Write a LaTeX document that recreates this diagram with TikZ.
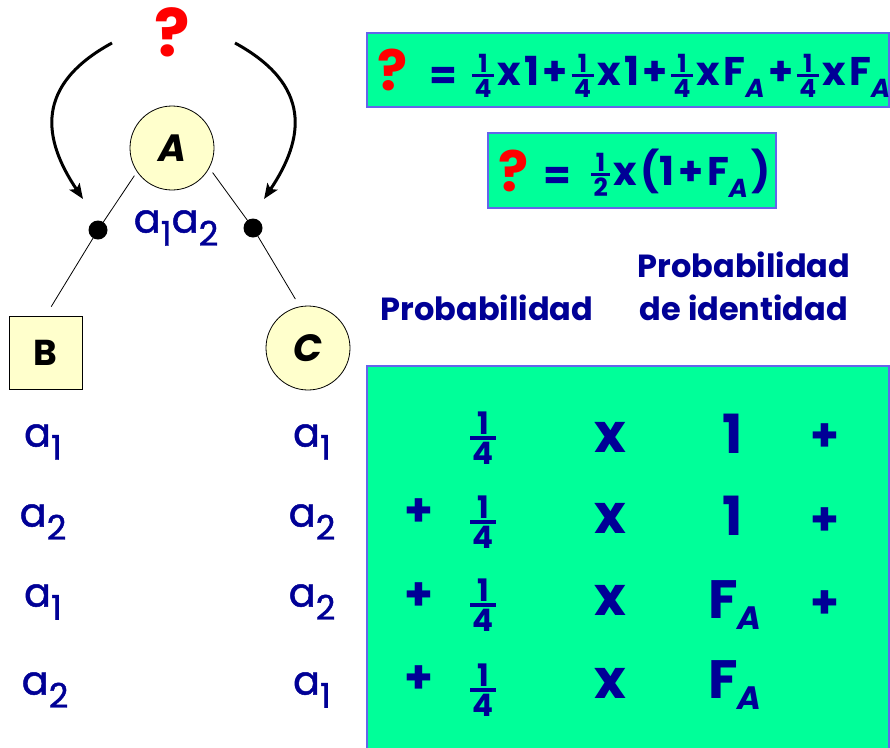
\documentclass[tikz,border=0pt]{standalone}
\usepackage{fontspec}
\setmainfont{Poppins}
\newfontfamily\heavy{Poppins}[FakeBold=1.2]
\usepackage{graphicx}
\usetikzlibrary{arrows.meta}
\definecolor{navy}{RGB}{0,0,150}
\definecolor{mint}{RGB}{0,255,153}
\definecolor{bord}{RGB}{100,100,235}
\definecolor{pale}{RGB}{255,255,204}
\newcommand\fs[1]{\fontsize{#1}{#1}\selectfont}
% size, raise, rule, num, den
\newcommand\frc[5]{\raisebox{#2}{\fs{#1}$\vcenter{\offinterlineskip\halign{\hfil\kern2.5pt##\kern2.5pt\hfil\cr #4\cr\noalign{\kern2pt\hrule height #3\kern2pt}#5\cr}}$}}
\newcommand\sA[2]{\raisebox{#1}{\scalebox{#2}{\itshape A}}}
\newcommand\ai[1]{a\raisebox{-0.33em}{\scalebox{0.85}{#1}}}
\newcommand\g{\kern3.5pt}
\newcommand\q{\frc{25pt}{3pt}{3pt}{1}{4}}
\begin{document}
\begin{tikzpicture}[x=1pt,y=-1pt,
  every node/.style={inner sep=0pt,outer sep=0pt},
  greenbox/.style={draw=bord,line width=1.5pt,fill=mint,anchor=north west},
  circ/.style={circle,draw=black,line width=0.8pt,fill=pale,minimum size=84pt,font=\fs{38pt}\bfseries\itshape},
  sq/.style={rectangle,draw=black,line width=0.8pt,fill=pale,minimum size=73pt,font=\fs{36pt}\bfseries},
  dot/.style={circle,fill=black,minimum size=19pt},
  arr/.style={line width=3pt,-{Stealth[length=15pt,width=12pt,inset=3pt]}},
  link/.style={line width=0.8pt},
  qm/.style={text=red,font=\fs{56pt}\bfseries},
  allele/.style={text=navy,font=\fs{40pt}\heavy},
  eq/.style={text=navy,font=\fs{40pt}\bfseries},
  head/.style={text=navy,font=\fs{32pt}\bfseries,anchor=base},
  big/.style={text=navy,font=\fs{54pt}\bfseries},
  plus/.style={text=navy,font=\fs{46pt}\bfseries}]
\useasboundingbox (0,0) rectangle (890,747);
\fill[white] (0,0) rectangle (890,747);

% boxes
\node[greenbox,minimum width=522pt,minimum height=74pt] (top) at (367,33) {};
\node[greenbox,minimum width=288pt,minimum height=75pt] (mid) at (488,133) {};
\node[greenbox,minimum width=522pt,minimum height=390pt] (tab) at (367,366) {};

% tree
\node[qm,font=\fs{66pt}\bfseries] (q) at (172,32) {?};
\coordinate (la) at (112,43);
\coordinate (lb) at (83,199);
\coordinate (ra) at (235,43);
\coordinate (rb) at (264,199);
\draw[arr] (la) .. controls (35,85) and (42,138) .. (lb);
\draw[arr] (ra) .. controls (312,85) and (305,138) .. (rb);

\node[circ] (A) at (172,148) {A};
\node[sq] (B) at (45.5,352.5) {B};
\node[circ] (C) at (308,348) {C};
\node[dot] (dl) at (98,230) {};
\node[dot] (dr) at (253,228) {};
\draw[link,shorten <=5pt] (A.214) -- (dl.center);
\draw[link,shorten >=11pt] (dl.center) -- (B.north);
\draw[link,shorten <=6pt] (A.332) -- (dr.center);
\draw[link,shorten >=9pt] (dr.center) -- (C.101);
\node[allele] (aa) at (176,228) {\ai{1}\ai{2}};

\node[allele] (b1) at (43,442) {\ai{1}};
\node[allele] (b2) at (43,522) {\ai{2}};
\node[allele] (b3) at (43,602) {\ai{1}};
\node[allele] (b4) at (45,690) {\ai{2}};
\node[allele] (c1) at (312,442) {\ai{1}};
\node[allele] (c2) at (312,522) {\ai{2}};
\node[allele] (c3) at (312,602) {\ai{2}};
\node[allele] (c4) at (312,690) {\ai{1}};

% top formula
\node[qm] (q1) at (393,70) {?};
\node[eq] (e1) at (443,78) {=};
\node[eq,anchor=base west] (f1) at (472,85) {\q\g x\g 1\g+\g\q\g x\g 1\g+\g\q\g x\g F\sA{-0.32em}{0.65}\g+\g\q\g x\g F\sA{-0.32em}{0.65}};

% second formula
\node[qm] (q2) at (514,171) {?};
\node[eq] (e2) at (557,178) {=};
\node[eq,anchor=base west] (f2) at (591,185) {\frc{25pt}{4pt}{3pt}{1}{2}\g x\g(1\g+\g F\sA{-0.32em}{0.65}\g)};

% headers
\node[head] (p1) at (487,320) {Probabilidad};
\node[head] (p2) at (744,277) {Probabilidad};
\node[head] (p3) at (744,320) {de identidad};

% table
\foreach \y/\n in {438/1,522/2,605/3,690/4}{
  \node (fr\n) at (483,\y) {\textcolor{navy}{\bfseries\frc{31pt}{0pt}{4pt}{1}{4}}};
}
\foreach \y/\n in {437/1,518/2,600/3,683/4}{
  \node[big] (x\n) at (610,\y) {x};
}
\node[big] (o1) at (733,434) {1};
\node[big] (o2) at (733,516) {1};
\node[big,anchor=base west] (fa1) at (708,618) {F\sA{-0.22em}{0.6}};
\node[big,anchor=base west] (fa2) at (708,698) {F\sA{-0.22em}{0.6}};
\foreach \y/\n in {513/1,597/2,680/3}{
  \node[plus] (pl\n) at (419,\y) {+};
}
\foreach \y/\n in {438/1,522/2,605/3}{
  \node[plus] (pr\n) at (825,\y) {+};
}
\end{tikzpicture}
\end{document}
